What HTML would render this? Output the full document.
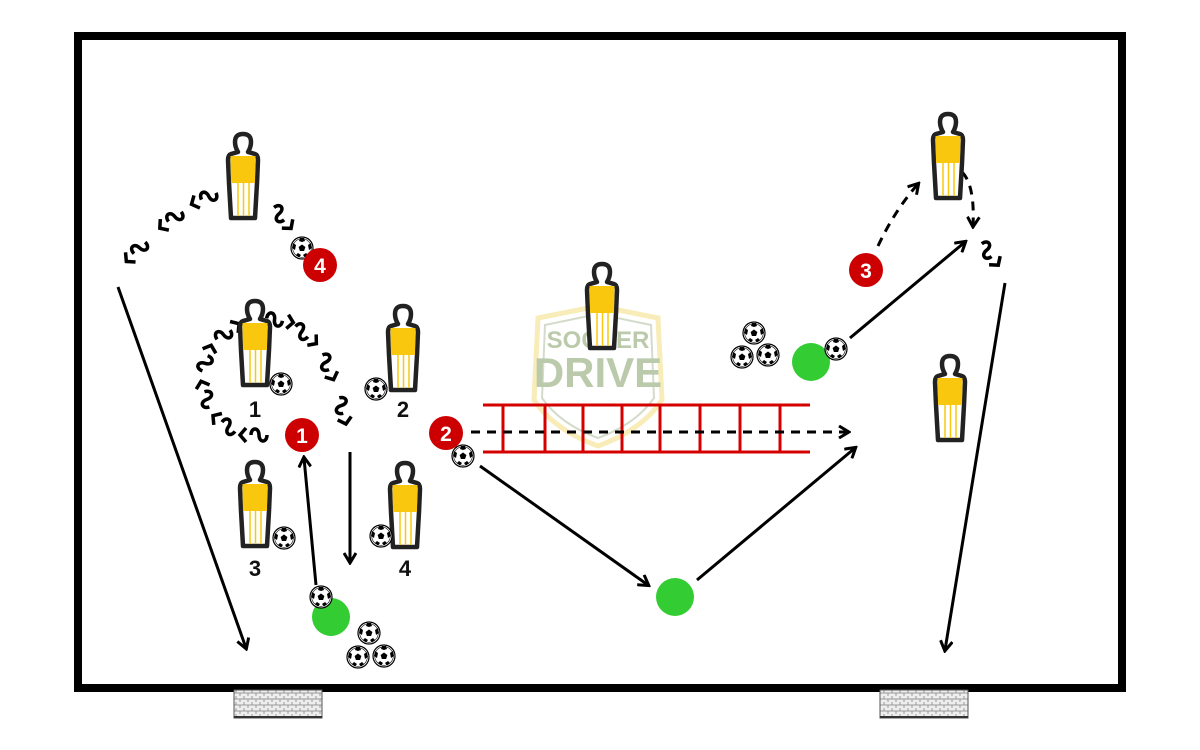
<!DOCTYPE html>
<html><head><meta charset="utf-8"><style>
html,body{margin:0;padding:0;background:#fff;}
svg{display:block;}
</style></head><body>
<svg id="s" width="1200" height="750" viewBox="0 0 1200 750" xmlns="http://www.w3.org/2000/svg">
<defs>
<pattern id="hatch" width="8" height="6" patternUnits="userSpaceOnUse">
<rect width="8" height="6" fill="#eee"/>
<path d="M0 3H8M4 0V3M0 3V6M8 3V6" stroke="#999" stroke-width="1"/>
</pattern>
<marker id="ah" markerWidth="14" markerHeight="14" refX="11" refY="7" orient="auto" markerUnits="userSpaceOnUse">
<path d="M2 1 L12 7 L2 13" fill="none" stroke="#000" stroke-width="3"/>
</marker>
<g id="man">
<path d="M-5 19 Q-8 14 -8 9 Q-8 1 0 1 Q8 1 8 9 Q8 14 5 19 L12 21 Q15 22 15 27 L14 50 L12 85 L-12 85 L-14 50 L-15 27 Q-15 22 -12 21 Z" fill="#fff" stroke="#222" stroke-width="4.5" stroke-linejoin="round"/>
<path d="M-12.5 23 L12.5 23 L12 50 L-12 50 Z" fill="#f9c80e"/>
<path d="M-5 50V83M0.5 50V83M6 50V83" stroke="#f9c80e" stroke-width="1.5"/>
</g>
<g id="ball">
<circle r="11" fill="#fff" stroke="#000" stroke-width="1.2"/>
<circle r="9.3" fill="none" stroke="#000" stroke-width="0.6"/>
<path d="M0 -3.5 L3.4 -1 L2.1 3 L-2.1 3 L-3.4 -1Z" fill="#000"/>
<path d="M-2 -10 L2 -10 L3 -7 L0 -6 L-3 -7Z M9 -5 L10 0 L7 2 L6 -3Z M-9 -5 L-10 0 L-7 2 L-6 -3Z M-6 7 L-3 9.5 L-1 7 L-4 5Z M6 7 L3 9.5 L1 7 L4 5Z" fill="#000"/>
</g>
</defs>
<rect x="78" y="36" width="1044" height="652" fill="#fff" stroke="#000" stroke-width="8"/>
<rect x="234" y="690" width="88" height="28" fill="url(#hatch)" stroke="#555" stroke-width="1"/>
<rect x="234" y="716" width="88" height="2" fill="#333"/>
<rect x="880" y="690" width="88" height="28" fill="url(#hatch)" stroke="#555" stroke-width="1"/>
<rect x="880" y="716" width="88" height="2" fill="#333"/>

<g opacity="0.6">
<path d="M538 318 L598 306 L658 318 L662 400 Q642 430 598 446 Q554 430 534 400 Z" fill="none" stroke="#f5e08a" stroke-width="5"/>
<path d="M545 325 L598 314 L651 325 L654 398 Q636 424 598 438 Q560 424 542 398 Z" fill="none" stroke="#b8c4a8" stroke-width="2"/>
<text x="598" y="348" font-family="Liberation Sans, sans-serif" font-weight="bold" font-size="24" fill="#8fa874" text-anchor="middle">SOCCER</text>
<text x="598" y="387" font-family="Liberation Sans, sans-serif" font-weight="bold" font-size="42" fill="#8fa874" text-anchor="middle">DRIVE</text>
</g>

<g stroke="#d40000" stroke-width="3">
<path d="M483 405H810M483 452H810"/>
<path d="M503 405V452M545 405V452M583 405V452M622 405V452M660 405V452M700 405V452M740 405V452M780 405V452"/>
</g>

<g stroke="#000" stroke-width="3" fill="none" marker-end="url(#ah)">
<path d="M118 287 L246 648"/>
<path d="M316 585 L304 458"/>
<path d="M350 452 L350 562"/>
<path d="M480 466 L648 585"/>
<path d="M697 580 L855 448"/>
<path d="M850 338 L965 242"/>
<path d="M1005 283 L945 650"/>
</g>
<g stroke="#000" stroke-width="3" fill="none" stroke-dasharray="9 7">
<path d="M471 432 L848 432" marker-end="url(#ah)"/>
<path d="M878 246 Q895 210 918 184" marker-end="url(#ah)"/>
<path d="M962 172 Q975 185 973 226" marker-end="url(#ah)"/>
</g>
<g id="drib" stroke="#000" stroke-width="3.5" fill="none"></g>

<use href="#man" x="243" y="133"/>
<use href="#man" x="255" y="300"/>
<use href="#man" x="403" y="305"/>
<use href="#man" x="255" y="461"/>
<use href="#man" x="405" y="462"/>
<use href="#man" x="602" y="263"/>
<use href="#man" x="948" y="113"/>
<use href="#man" x="950" y="355"/>

<g fill="#33cc33">
<circle cx="331" cy="617" r="19"/><circle cx="675" cy="597" r="19"/><circle cx="811" cy="362" r="19"/>
</g>
<use href="#ball" x="302" y="248"/><use href="#ball" x="281" y="384"/><use href="#ball" x="376" y="389"/>
<use href="#ball" x="463" y="456"/><use href="#ball" x="284" y="538"/><use href="#ball" x="381" y="536"/>
<use href="#ball" x="321" y="597"/><use href="#ball" x="369" y="633"/><use href="#ball" x="358" y="657"/>
<use href="#ball" x="384" y="656"/><use href="#ball" x="754" y="333"/><use href="#ball" x="742" y="357"/>
<use href="#ball" x="768" y="355"/><use href="#ball" x="836" y="349"/>

<g fill="#cc0000"><circle cx="320" cy="265" r="17"/><circle cx="302" cy="435" r="17"/><circle cx="446" cy="433" r="17"/><circle cx="866" cy="270" r="17"/></g>
<g font-family="Liberation Sans, sans-serif" font-weight="bold" font-size="21" fill="#fff" text-anchor="middle">
<text x="320" y="273">4</text><text x="302" y="443">1</text><text x="446" y="441">2</text><text x="866" y="278">3</text>
</g>
<g font-family="Liberation Sans, sans-serif" font-weight="bold" font-size="22" fill="#111" text-anchor="middle">
<text x="255" y="417">1</text><text x="403" y="417">2</text><text x="255" y="576">3</text><text x="405" y="576">4</text>
</g>
</svg>
<script>
(function(){
var g=document.getElementById('drib'),NS='http://www.w3.org/2000/svg';
function seg(x1,y1,x2,y2){
 var dx=x2-x1,dy=y2-y1,a=Math.atan2(dy,dx)*180/Math.PI;
 var mx=(x1+x2)/2,my=(y1+y2)/2;
 var grp=document.createElementNS(NS,'g');
 grp.setAttribute('transform','translate('+mx+','+my+') rotate('+a+')');
 var p=document.createElementNS(NS,'path');
 p.setAttribute('d','M-11 0 C-11 -8 -3 -8 -3 0 C-3 8 5 8 5 0 M10 -7 L16 0 L10 7');
 grp.appendChild(p);g.appendChild(grp);
}
function path(pts,step){
 for(var i=0;i<pts.length-1;i++){
  var a=pts[i],b=pts[i+1],L=Math.hypot(b[0]-a[0],b[1]-a[1]),n=Math.max(1,Math.round(L/step));
  for(var k=0;k<n;k++){
   var t1=k/n,t2=(k+1)/n;
   seg(a[0]+(b[0]-a[0])*t1,a[1]+(b[1]-a[1])*t1,a[0]+(b[0]-a[0])*t2,a[1]+(b[1]-a[1])*t2);
  }
 }
}
path([[222,190],[190,205],[155,232],[120,268]],37);
path([[268,200],[294,232]],37);
path([[272,435],[240,435],[212,415],[200,378],[212,343],[240,323]],37);
path([[265,318],[290,322],[318,345],[336,385],[348,432]],37);
path([[975,235],[1002,270]],37);
})();
</script>
</body></html>
